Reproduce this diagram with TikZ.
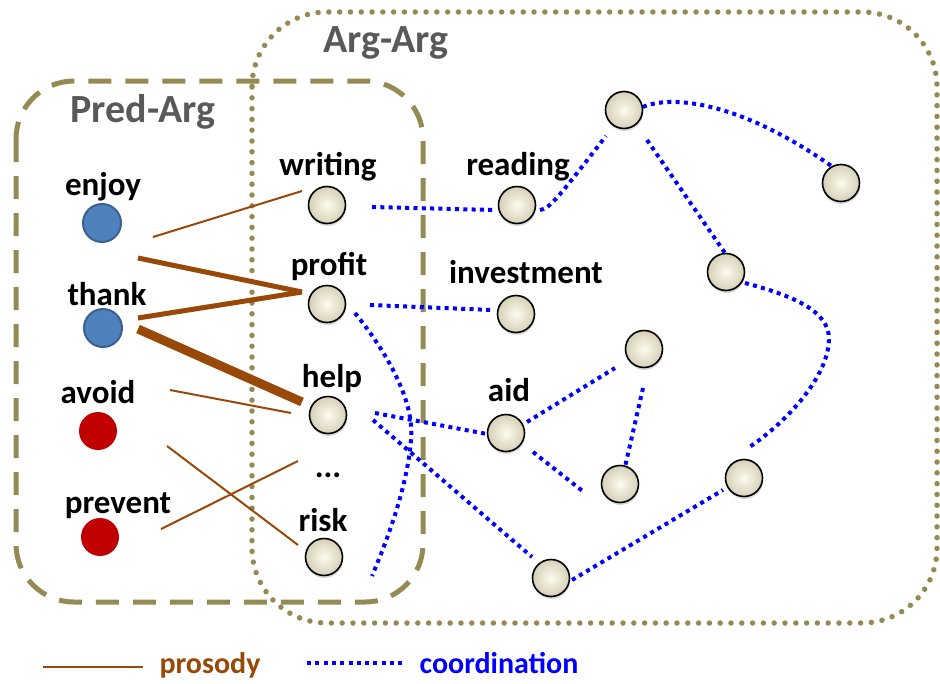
\documentclass[tikz,border=0pt]{standalone}
\usepackage{fontspec}
\setmainfont{Carlito}
\usetikzlibrary{shadows}
\definecolor{olivebox}{RGB}{148,138,84}
\definecolor{brn}{RGB}{152,72,7}
\definecolor{tgray}{RGB}{89,89,89}
\definecolor{predblue}{RGB}{79,129,189}
\definecolor{predblueb}{RGB}{58,95,145}
\definecolor{predred}{RGB}{192,0,0}
\definecolor{beigein}{RGB}{253,251,238}
\definecolor{beigeout}{RGB}{214,208,184}
\tikzset{
  argnode/.style={circle, minimum size=37pt, inner sep=0pt, draw=black, line width=1.6pt,
    inner color=beigein, outer color=beigeout,
    drop shadow={shadow xshift=0.5pt, shadow yshift=-2.5pt, opacity=0.3}},
  bluenode/.style={circle, minimum size=38pt, inner sep=0pt, fill=predblue, draw=predblueb, line width=2pt},
  rednode/.style={circle, minimum size=38pt, inner sep=0pt, fill=predred},
  lbl/.style={font=\fontsize{33}{36}\selectfont\bfseries, anchor=base, inner sep=0pt},
  title/.style={font=\fontsize{40}{44}\selectfont\bfseries, text=tgray, anchor=base, inner sep=0pt},
  legendtxt/.style={font=\fontsize{30}{33}\selectfont\bfseries, anchor=base, inner sep=0pt},
  pros/.style={draw=brn, line width=2pt},
  prosmid/.style={draw=brn, line width=5pt},
  prosthick/.style={draw=brn, line width=9pt},
  coord/.style={draw=blue, line width=4pt, dash pattern=on 4pt off 4.3pt},
}
\begin{document}
\begin{tikzpicture}[x=1pt, y=-1pt]
\useasboundingbox (0,0) rectangle (940,683);
% boxes
\draw[olivebox, line width=5.5pt, line cap=round, dash pattern=on 0pt off 10.8pt, rounded corners=75pt] (252,12) rectangle (937,623);
\draw[olivebox, line width=5pt, dash pattern=on 23pt off 14pt, rounded corners=58pt] (16,81) rectangle (423,602);
\node[title] (argarg) at (386,52) {Arg-Arg};
\node[title] (predarg) at (143,122) {Pred-Arg};

% coordinates for connector ends
\coordinate (p1a) at (153,237); \coordinate (p1b) at (302,191);
\coordinate (p2a) at (138,258); \coordinate (p2b) at (302,292);
\coordinate (p3a) at (138,318); \coordinate (p3b) at (302,292);
\coordinate (p4a) at (138,329); \coordinate (p4b) at (302,402);
\coordinate (p5a) at (170,390); \coordinate (p5b) at (291,413);
\coordinate (p6a) at (167,446); \coordinate (p6b) at (298,545);
\coordinate (p7a) at (161,529); \coordinate (p7b) at (298,461);

% prosody lines
\draw[pros] (p1a) -- (p1b);
\draw[prosmid] (p2a) -- (p2b);
\draw[prosmid] (p3a) -- (p3b);
\draw[prosthick] (p4a) -- (p4b);
\draw[pros] (p5a) -- (p5b);
\draw[pros] (p6a) -- (p6b);
\draw[pros] (p7a) -- (p7b);

% coordination ends
\coordinate (c1a) at (372,207); \coordinate (c1b) at (494,210);
\coordinate (c2a) at (540,210); \coordinate (c2b) at (606,136);
\coordinate (c3a) at (643,107); \coordinate (c3b) at (837,170);
\coordinate (c4a) at (647,140); \coordinate (c4b) at (725,253);
\coordinate (c5a) at (745,283); \coordinate (c5m) at (829,340); \coordinate (c5b) at (748,448);
\coordinate (c6a) at (370,305); \coordinate (c6b) at (492,310);
\coordinate (c7a) at (355,313); \coordinate (c7m) at (411,440); \coordinate (c7b) at (372,576);
\coordinate (c8a) at (375,413); \coordinate (c8b) at (487,434);
\coordinate (c9a) at (373,420); \coordinate (c9b) at (532,557);
\coordinate (c10a) at (527,422); \coordinate (c10b) at (615,368);
\coordinate (c11a) at (533,452); \coordinate (c11b) at (585,493);
\coordinate (c12a) at (643,388); \coordinate (c12b) at (625,467);
\coordinate (c13a) at (572,580); \coordinate (c13b) at (723,490);

\draw[coord] (c1a) -- (c1b);
\draw[coord] (c2a) .. controls (550,209) and (560,195) .. (c2b);
\draw[coord] (c3a) .. controls (670,95) and (740,100) .. (c3b);
\draw[coord] (c4a) -- (c4b);
\draw[coord] (c5a) .. controls (790,295) and (830,310) .. (c5m) .. controls (828,375) and (790,420) .. (c5b);
\draw[coord] (c6a) -- (c6b);
\draw[coord] (c7a) .. controls (385,350) and (415,400) .. (c7m) .. controls (407,490) and (385,545) .. (c7b);
\draw[coord] (c8a) -- (c8b);
\draw[coord] (c9a) -- (c9b);
\draw[coord] (c10a) -- (c10b);
\draw[coord] (c11a) -- (c11b);
\draw[coord] (c12a) -- (c12b);
\draw[coord] (c13a) -- (c13b);

% predicate nodes
\node[bluenode] (enjoy) at (102,223) {};
\node[bluenode] (thank) at (103,328) {};
\node[rednode] (avoid) at (98,431) {};
\node[rednode] (prevent) at (100,537) {};
\node[lbl] (enjoyl) at (103,195) {enjoy};
\node[lbl] (thankl) at (107,305) {thank};
\node[lbl] (avoidl) at (98,403) {avoid};
\node[lbl] (preventl) at (118,513) {prevent};

% argument nodes
\node[argnode] (writing) at (327,205) {};
\node[argnode] (profit) at (327,304) {};
\node[argnode] (help) at (328,415) {};
\node[argnode] (risk) at (324,557) {};
\node[argnode] (reading) at (517,205) {};
\node[argnode] (investment) at (516,314) {};
\node[argnode] (aid) at (506,433) {};
\node[argnode] (n1) at (624,110) {};
\node[argnode] (n2) at (841,183) {};
\node[argnode] (n3) at (726,272) {};
\node[argnode] (n4) at (644,349) {};
\node[argnode] (n5) at (620,484) {};
\node[argnode] (n6) at (744,478) {};
\node[argnode] (n7) at (551,578) {};

\node[lbl] (writingl) at (328,175) {writing};
\node[lbl] (profitl) at (329,275) {profit};
\node[lbl] (helpl) at (332,387) {help};
\node[lbl] (dotsl) at (328,477) {...};
\node[lbl] (riskl) at (323,531) {risk};
\node[lbl] (readingl) at (518,175) {reading};
\node[lbl] (investmentl) at (526,283) {investment};
\node[lbl] (aidl) at (509,401) {aid};

% legend
\coordinate (l1a) at (43,667); \coordinate (l1b) at (143,667);
\coordinate (l2a) at (307,663); \coordinate (l2b) at (402,663);
\draw[pros] (l1a) -- (l1b);
\draw[coord] (l2a) -- (l2b);
\node[legendtxt, text=brn] (prosodyl) at (210,673) {prosody};
\node[legendtxt, text=blue] (coordl) at (499,673) {coordination};
\end{tikzpicture}
\end{document}
